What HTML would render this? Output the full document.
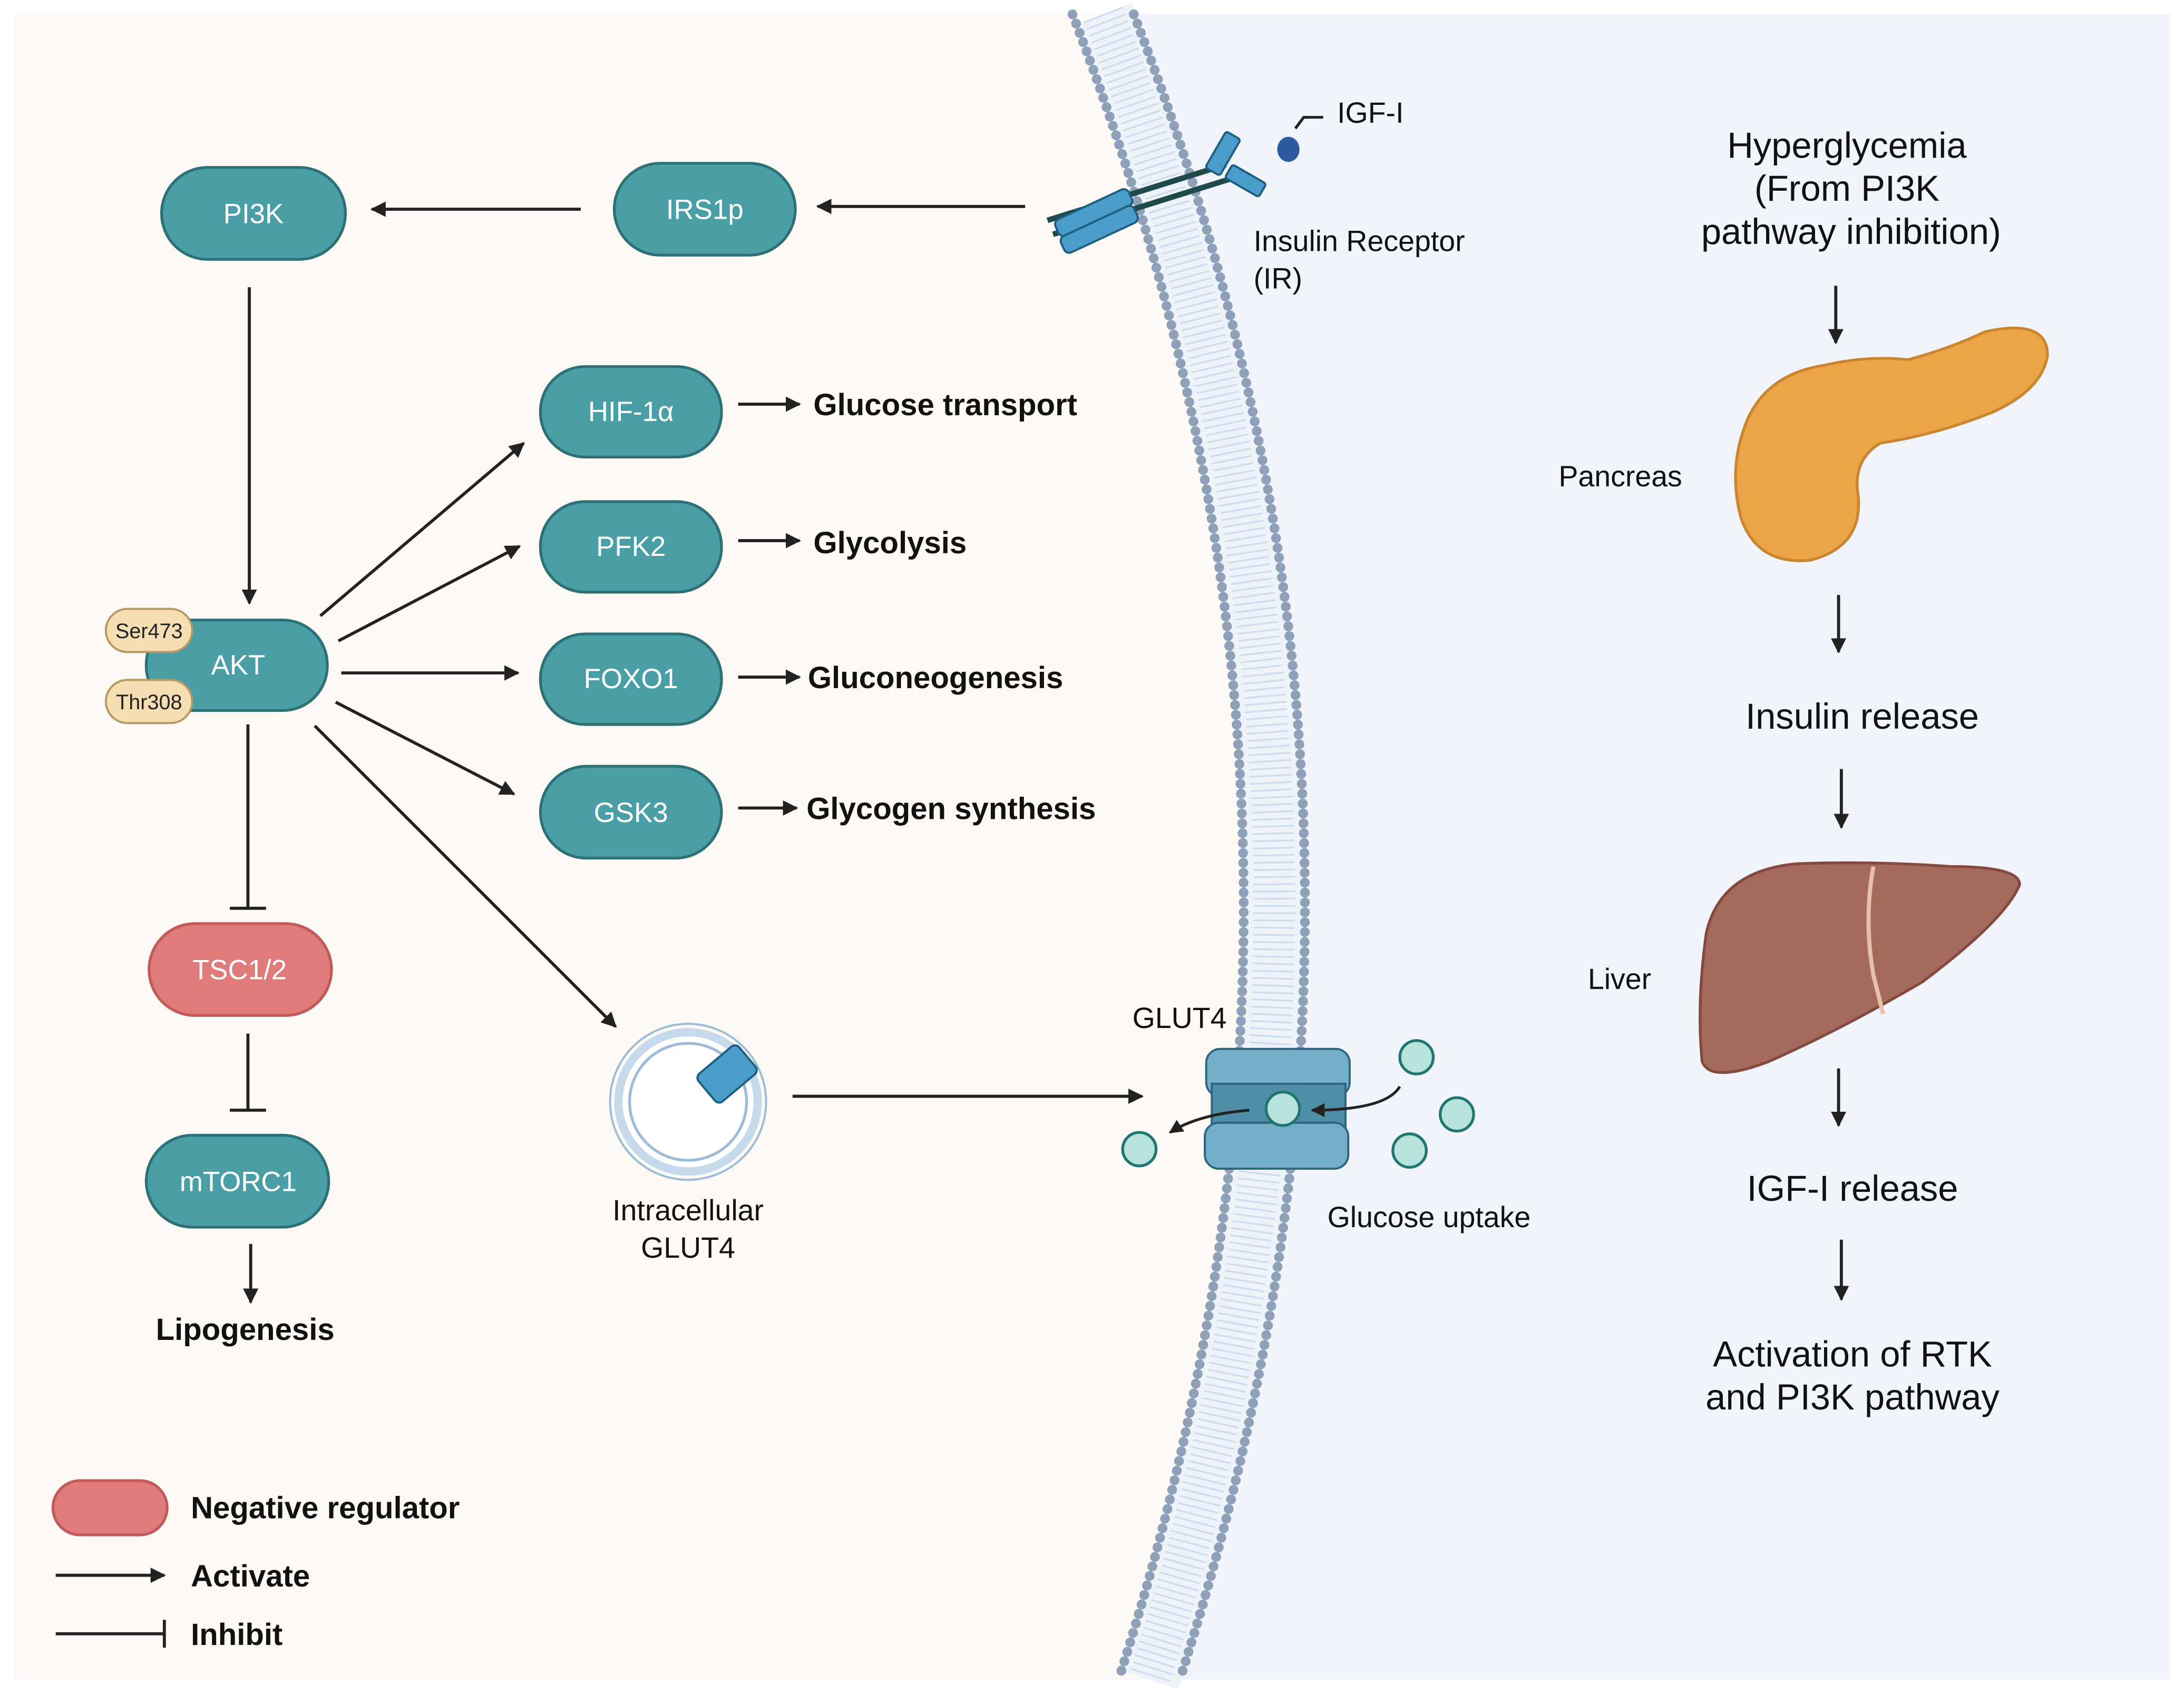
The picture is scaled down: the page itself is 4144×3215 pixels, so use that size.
<!DOCTYPE html>
<html><head><meta charset="utf-8"><style>
html,body{margin:0;padding:0;background:#fff}
svg{display:block}
text{font-family:"Liberation Sans",Arial,sans-serif}
</style></head><body>
<svg width="4144" height="3215" viewBox="0 0 1568 1216" xmlns="http://www.w3.org/2000/svg">
<defs>
<marker id="ah" viewBox="0 0 10 10" refX="9" refY="5" markerWidth="5" markerHeight="5" orient="auto-start-reverse"><path d="M0,0L10,5L0,10z" fill="#222"/></marker>
</defs>
<rect x="0" y="0" width="1568" height="1216" fill="#fff"/>
<rect x="10" y="10" width="1548" height="1196" fill="#fdf9f5"/>
<path d="M792 10 Q1020 600 825 1206 L1558 1206 L1558 10 Z" fill="#f1f5fb"/>
<!-- membrane -->
<path d="M792 10 Q1020 600 825 1206" fill="none" stroke="#eef3fa" stroke-width="44"/>
<path d="M792 10 Q1020 600 825 1206" fill="none" stroke="#cfdcee" stroke-width="30" stroke-dasharray="1.2 4"/>
<path d="M770 10 Q998 600 803 1206" fill="none" stroke="#8fa1b8" stroke-width="7" stroke-dasharray="0.1 7" stroke-linecap="round"/>
<path d="M814 10 Q1042 600 847 1206" fill="none" stroke="#8fa1b8" stroke-width="7" stroke-dasharray="0.1 7" stroke-linecap="round"/>

<g stroke="#222" stroke-width="2.2" fill="none">
<line x1="417" y1="150" x2="267" y2="150" marker-end="url(#ah)"/>
<line x1="736" y1="148" x2="587" y2="148" marker-end="url(#ah)"/>
<line x1="179" y1="206" x2="179" y2="433" marker-end="url(#ah)"/>
<line x1="230" y1="442" x2="376" y2="318" marker-end="url(#ah)"/>
<line x1="243" y1="460" x2="373" y2="392" marker-end="url(#ah)"/>
<line x1="245" y1="483" x2="372" y2="483" marker-end="url(#ah)"/>
<line x1="241" y1="504" x2="369" y2="570" marker-end="url(#ah)"/>
<line x1="226" y1="521" x2="442" y2="737" marker-end="url(#ah)"/>
<line x1="178" y1="520" x2="178" y2="652"/><line x1="165" y1="652" x2="191" y2="652"/>
<line x1="178" y1="742" x2="178" y2="797"/><line x1="165" y1="797" x2="191" y2="797"/>
<line x1="180" y1="893" x2="180" y2="935" marker-end="url(#ah)"/>
<line x1="530" y1="290" x2="574" y2="290" marker-end="url(#ah)"/>
<line x1="530" y1="388" x2="574" y2="388" marker-end="url(#ah)"/>
<line x1="530" y1="486" x2="574" y2="486" marker-end="url(#ah)"/>
<line x1="530" y1="580" x2="572" y2="580" marker-end="url(#ah)"/>
<line x1="569" y1="787" x2="820" y2="787" marker-end="url(#ah)"/>
<line x1="1318" y1="205" x2="1318" y2="246" marker-end="url(#ah)"/>
<line x1="1320" y1="427" x2="1320" y2="468" marker-end="url(#ah)"/>
<line x1="1322" y1="552" x2="1322" y2="594" marker-end="url(#ah)"/>
<line x1="1320" y1="767" x2="1320" y2="808" marker-end="url(#ah)"/>
<line x1="1322" y1="890" x2="1322" y2="933" marker-end="url(#ah)"/>
<line x1="40" y1="1131" x2="118" y2="1131" marker-end="url(#ah)"/>
<line x1="40" y1="1173" x2="118" y2="1173"/><line x1="118" y1="1163" x2="118" y2="1183"/>
</g>

<!-- nodes -->
<g fill="#4a9ea5" stroke="#2d7177" stroke-width="2">
<rect x="116" y="120" width="132" height="66" rx="33"/>
<rect x="441" y="117" width="130" height="66" rx="33"/>
<rect x="388" y="263" width="130" height="65" rx="32"/>
<rect x="388" y="360" width="130" height="65" rx="32"/>
<rect x="388" y="455" width="130" height="65" rx="32"/>
<rect x="388" y="550" width="130" height="66" rx="33"/>
<rect x="105" y="445" width="130" height="65" rx="32"/>
<rect x="105" y="815" width="131" height="66" rx="33"/>
</g>
<rect x="107" y="663" width="131" height="66" rx="33" fill="#e07b7b" stroke="#c35a5a" stroke-width="2"/>
<rect x="76" y="437" width="62" height="31" rx="15.5" fill="#f5dfb2" stroke="#b59a66" stroke-width="1.5"/>
<rect x="76" y="488" width="62" height="31" rx="15.5" fill="#f5dfb2" stroke="#b59a66" stroke-width="1.5"/>
<g fill="#fff" font-size="20" text-anchor="middle">
<text x="182" y="160">PI3K</text><text x="506" y="157">IRS1p</text>
<text x="453" y="302">HIF-1α</text><text x="453" y="399">PFK2</text>
<text x="453" y="494">FOXO1</text><text x="453" y="590">GSK3</text>
<text x="171" y="484">AKT</text><text x="171" y="855">mTORC1</text>
<text x="172" y="703">TSC1/2</text>
</g>
<g font-size="15" text-anchor="middle" fill="#222"><text x="107" y="458">Ser473</text><text x="107" y="509">Thr308</text></g>
<g font-size="22" font-weight="bold" fill="#111">
<text x="584" y="298">Glucose transport</text><text x="584" y="397">Glycolysis</text>
<text x="580" y="494">Gluconeogenesis</text><text x="579" y="588">Glycogen synthesis</text>
<text x="176" y="962" text-anchor="middle">Lipogenesis</text>
<text x="137" y="1090">Negative regulator</text><text x="137" y="1139">Activate</text><text x="137" y="1181">Inhibit</text>
</g>
<rect x="38" y="1063" width="82" height="39" rx="19.5" fill="#e07b7b" stroke="#c35a5a" stroke-width="2"/>

<!-- receptor -->
<g stroke="#1f4a4c" stroke-width="4"><line x1="752" y1="158" x2="880" y2="118"/><line x1="756" y1="168" x2="884" y2="128"/></g>
<g fill="#4a9ccb" stroke="#1e5f80" stroke-width="1.5">
<rect x="756" y="146" width="58" height="13" rx="4" transform="rotate(-25 785 152)"/>
<rect x="760" y="158" width="58" height="13" rx="4" transform="rotate(-25 789 164)"/>
<rect x="872" y="95" width="12" height="30" rx="2" transform="rotate(30 878 110)"/>
<rect x="880" y="124" width="28" height="11" rx="2" transform="rotate(30 894 130)"/>
</g>
<ellipse cx="925" cy="107" rx="8" ry="9" fill="#2e5aa0"/>
<path d="M930 92 L936 84 L950 84" stroke="#222" stroke-width="2" fill="none"/>
<g font-size="21" fill="#111">
<text x="960" y="88">IGF-I</text><text x="900" y="180">Insulin Receptor</text><text x="900" y="207">(IR)</text>
<text x="813" y="738">GLUT4</text><text x="953" y="881">Glucose uptake</text>
<text x="494" y="876" text-anchor="middle">Intracellular</text><text x="494" y="903" text-anchor="middle">GLUT4</text>
</g>
<!-- vesicle -->
<circle cx="494" cy="791" r="50" fill="#fff" stroke="#c7daec" stroke-width="6"/>
<circle cx="494" cy="791" r="42" fill="none" stroke="#9cbcd8" stroke-width="2"/>
<circle cx="494" cy="791" r="56" fill="none" stroke="#9cbcd8" stroke-width="1.5"/>
<rect x="503" y="758" width="38" height="26" rx="4" fill="#4a9ccb" stroke="#1e5f80" stroke-width="1.5" transform="rotate(-40 522 771)"/>
<!-- GLUT4 transporter -->
<rect x="866" y="753" width="103" height="34" rx="10" fill="#75aec9" stroke="#2d6680" stroke-width="1.5"/>
<rect x="870" y="778" width="96" height="36" fill="#4e8ea6" stroke="#2d6680" stroke-width="1.5"/>
<rect x="865" y="806" width="103" height="33" rx="10" fill="#75aec9" stroke="#2d6680" stroke-width="1.5"/>
<g fill="#b8e3dc" stroke="#1f7572" stroke-width="2">
<ellipse cx="921" cy="796" rx="12" ry="12"/><ellipse cx="1017" cy="759" rx="12" ry="12"/>
<ellipse cx="1046" cy="800" rx="12" ry="12"/><ellipse cx="1012" cy="826" rx="12" ry="12"/>
<ellipse cx="818" cy="825" rx="12" ry="12"/>
</g>
<g stroke="#222" stroke-width="2" fill="none">
<path d="M1005 780 Q995 797 942 797" marker-end="url(#ah)"/>
<path d="M897 797 Q860 800 840 813" marker-end="url(#ah)"/>
</g>
<!-- right column -->
<g font-size="26" fill="#111" text-anchor="middle">
<text x="1326" y="113">Hyperglycemia</text><text x="1326" y="144">(From PI3K</text><text x="1329" y="175">pathway inhibition)</text>
<text x="1337" y="523">Insulin release</text><text x="1330" y="862">IGF-I release</text>
<text x="1330" y="981">Activation of RTK</text><text x="1330" y="1012">and PI3K pathway</text>
</g>
<g font-size="21" fill="#111"><text x="1119" y="349">Pancreas</text><text x="1140" y="710">Liver</text></g>
<path d="M1255 300 Q1270 268 1310 262 Q1340 255 1370 258 Q1400 250 1425 238 Q1470 228 1470 255 Q1466 280 1430 296 Q1390 312 1350 318 Q1330 330 1334 355 Q1338 392 1300 402 Q1262 406 1250 372 Q1240 335 1255 300 Z" fill="#eba546" stroke="#c98530" stroke-width="2"/>
<path d="M1225 670 Q1235 625 1290 620 Q1345 618 1400 622 Q1450 622 1450 635 Q1440 660 1380 705 Q1320 740 1270 762 Q1228 778 1222 762 Q1218 720 1225 670 Z" fill="#a56a5e" stroke="#84493f" stroke-width="2"/>
<path d="M1345 622 Q1338 660 1345 700 Q1350 720 1352 728" stroke="#e7c0a8" stroke-width="3" fill="none"/>
</svg>
</body></html>
